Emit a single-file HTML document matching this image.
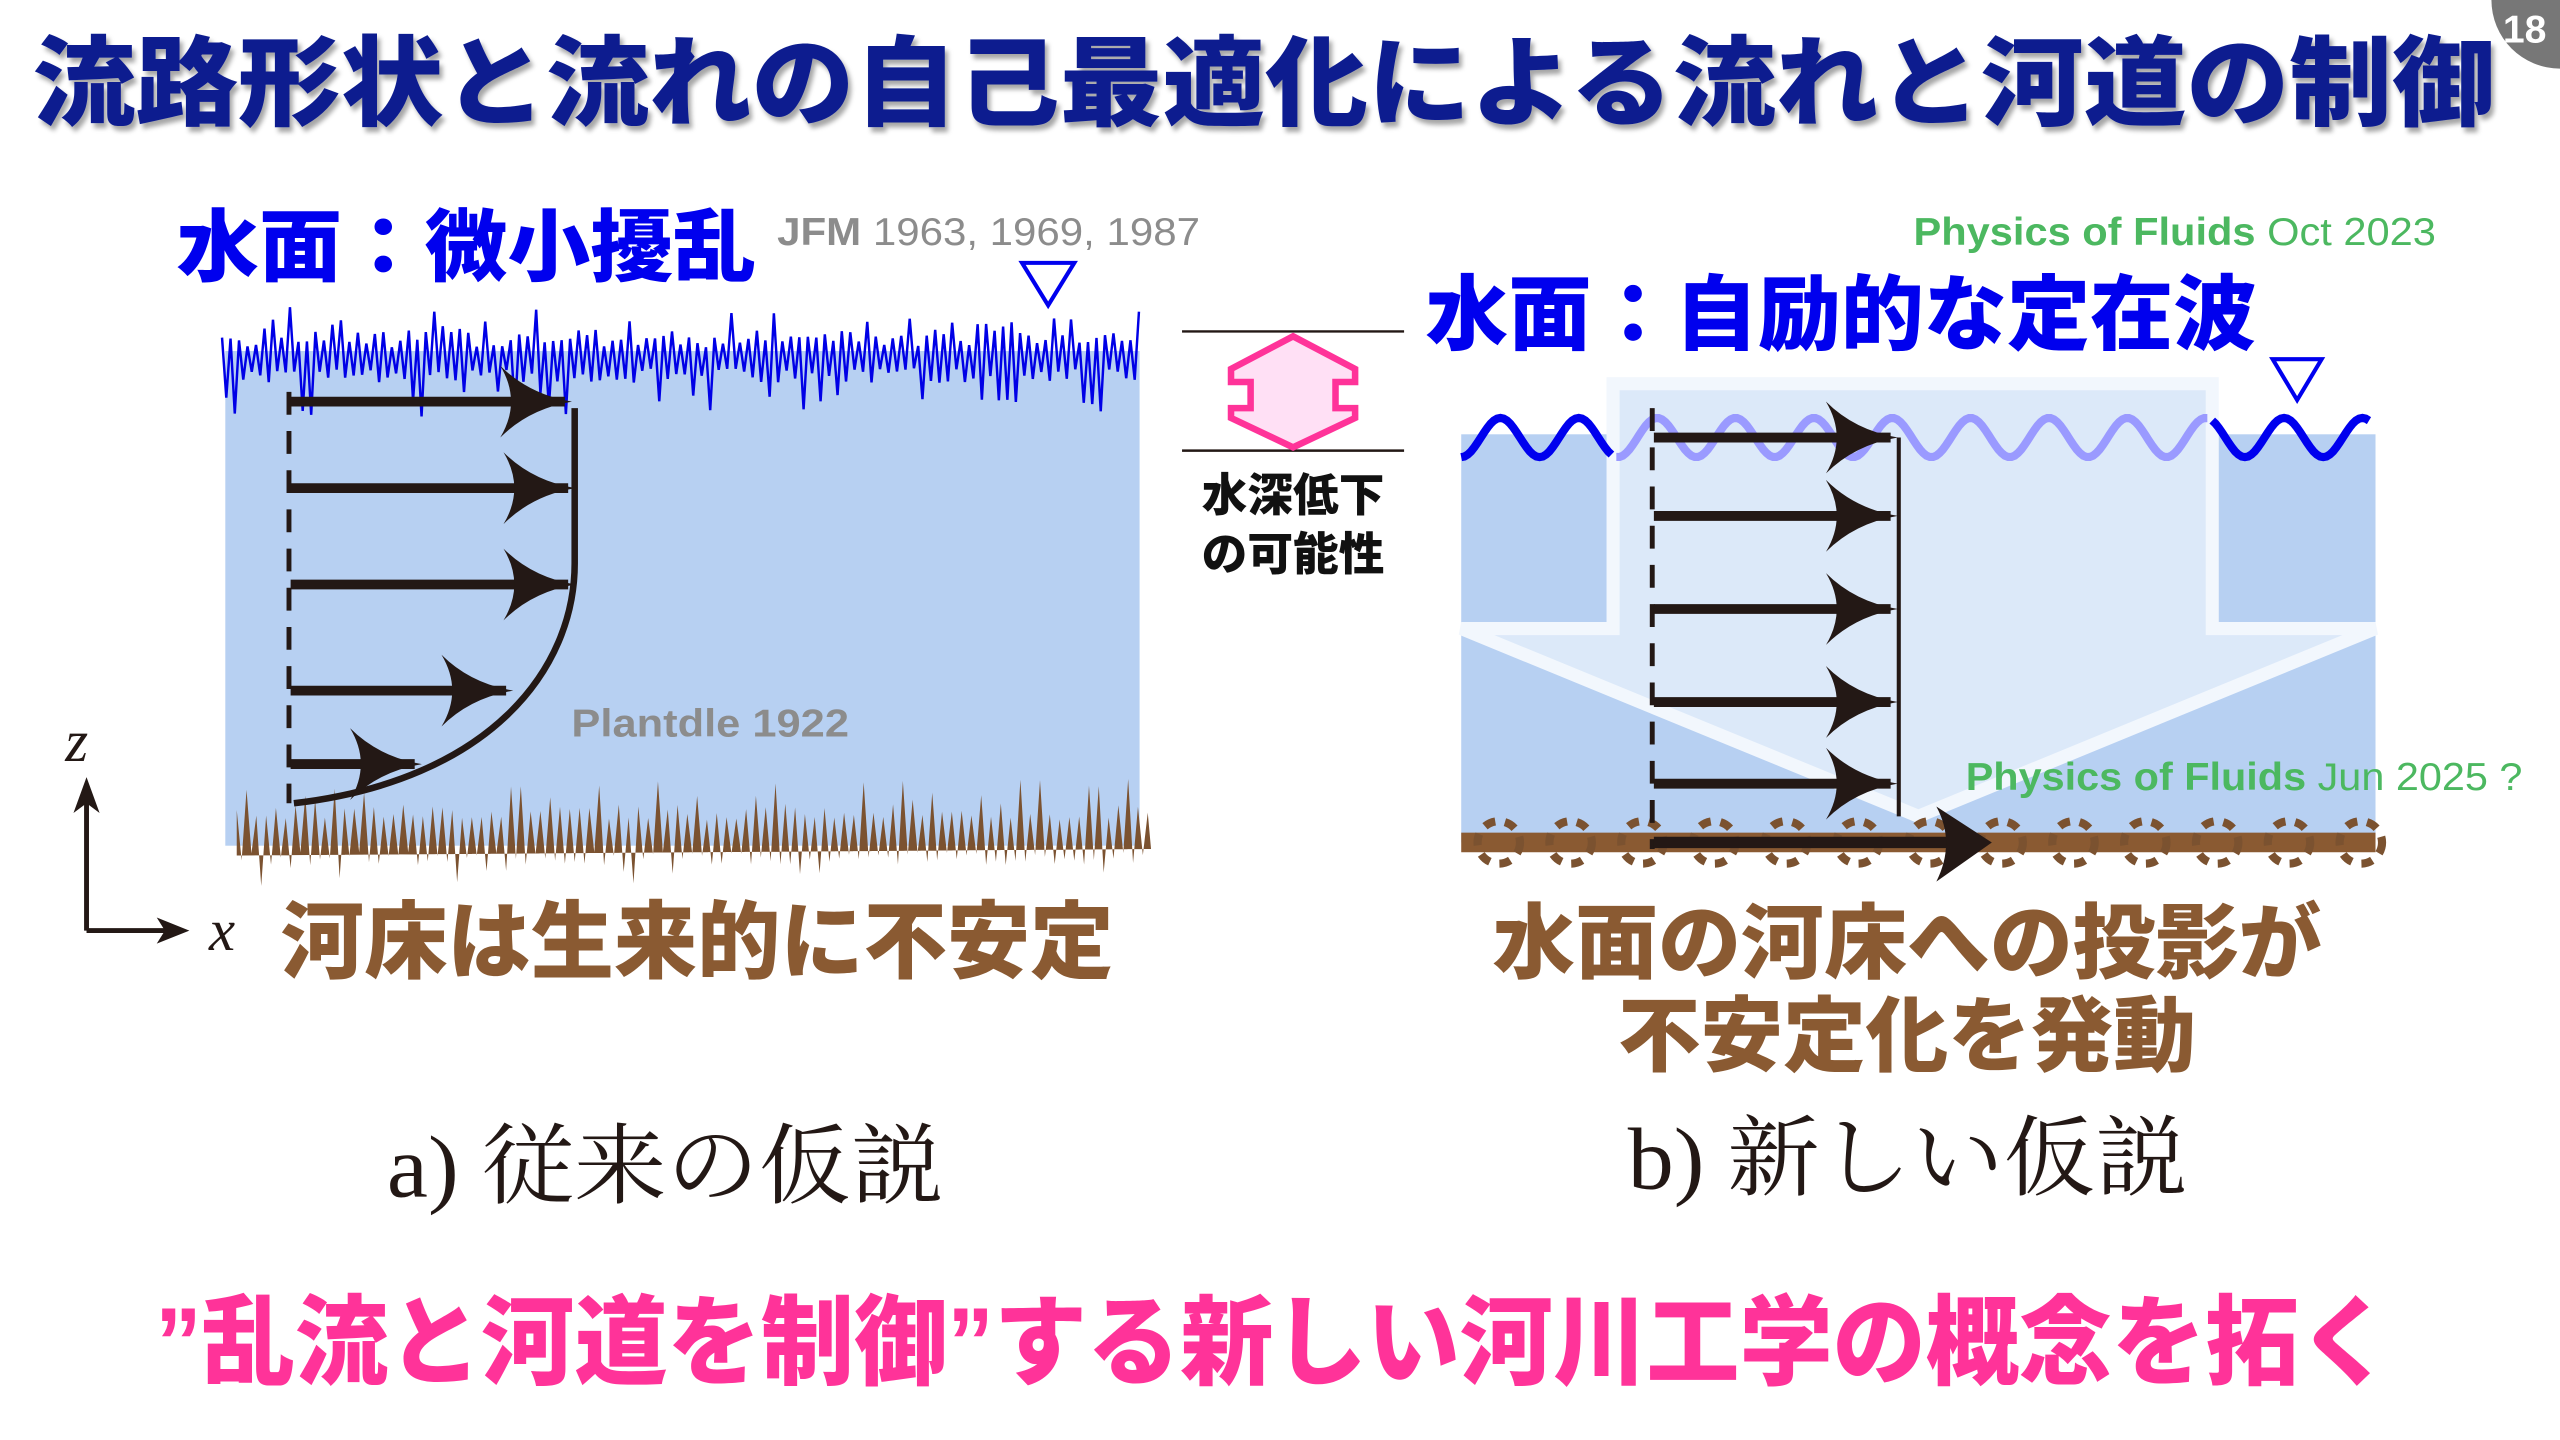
<!DOCTYPE html>
<html><head><meta charset="utf-8">
<style>
html,body{margin:0;padding:0;background:#fff;}
svg{display:block;}
text{font-family:"Liberation Sans","Noto Sans CJK JP",sans-serif;}
.b{font-weight:900;}
.serif{font-family:"Liberation Serif","Noto Serif CJK SC",serif;}
</style></head>
<body>
<svg id="s" width="2560" height="1440" viewBox="0 0 1568 882" xmlns="http://www.w3.org/2000/svg">
<defs>
<marker id="ah2" viewBox="0 0 20 20" refX="18" refY="10" markerWidth="44" markerHeight="44" markerUnits="userSpaceOnUse" orient="auto">
<path d="M0,0 Q8,8 20,10 Q8,12 0,20 Q6,10 0,0Z" fill="#231815"/></marker>
<filter id="sh"><feDropShadow dx="2" dy="3" stdDeviation="1.5" flood-color="#000" flood-opacity="0.35"/></filter>
</defs>

<!-- title -->
<text x="20" y="72" font-size="60" class="b" fill="#0d1f8f" textLength="1508" lengthAdjust="spacingAndGlyphs" filter="url(#sh)">流路形状と流れの自己最適化による流れと河道の制御</text>
<circle cx="1568" cy="0" r="42" fill="#777"/>
<text x="1533" y="26" font-size="24" font-weight="bold" fill="#fff">18</text>

<!-- LEFT PANEL -->
<rect x="138" y="215" width="560" height="303" fill="#b7d0f2"/>
<polyline id="wl" fill="none" stroke="#0000e6" stroke-width="1.5"/>
<polygon id="bed" fill="#7b5230"/>
<text x="108" y="168" font-size="48" class="b" fill="#0000ee" textLength="355" lengthAdjust="spacingAndGlyphs">水面：微小擾乱</text>
<text x="476" y="150" font-size="24" fill="#8c8c8c" textLength="259" lengthAdjust="spacingAndGlyphs"><tspan font-weight="bold">JFM</tspan> 1963, 1969, 1987</text>
<path d="M626,161 L658,161 L642,187Z" fill="#fff" stroke="#0000ee" stroke-width="2.5"/>

<line x1="177" y1="240" x2="177" y2="492" stroke="#231815" stroke-width="3" stroke-dasharray="14,10"/>
<g stroke="#231815" stroke-width="6" marker-end="url(#ah2)">
<line x1="178" y1="246" x2="346" y2="246"/>
<line x1="178" y1="299" x2="348" y2="299"/>
<line x1="178" y1="358" x2="348" y2="358"/>
<line x1="178" y1="423" x2="310" y2="423"/>
<line x1="178" y1="468" x2="254" y2="468"/>
</g>
<path d="M352,250 L352,345 C352,410 300,478 180,492" fill="none" stroke="#231815" stroke-width="4"/>
<text x="350" y="451" font-size="24" font-weight="bold" fill="#8c8c8c" textLength="170" lengthAdjust="spacingAndGlyphs">Plantdle 1922</text>

<!-- axes -->
<text x="40" y="466" font-size="36" font-style="italic" class="serif" fill="#231815">z</text>
<path d="M53,570 L53,482 M53,570 L108,570" fill="none" stroke="#231815" stroke-width="3"/>
<path d="M53,476 L45,498 L53,492 L61,498Z" fill="#231815"/>
<path d="M116,570 L96,562 L101,570 L96,578Z" fill="#231815"/>
<text x="128" y="582" font-size="36" font-style="italic" class="serif" fill="#231815">x</text>
<text x="172" y="595" font-size="52" class="b" fill="#8a5a32" textLength="510" lengthAdjust="spacingAndGlyphs">河床は生来的に不安定</text>
<text x="237" y="733" font-size="54" class="serif" fill="#231815" textLength="341" lengthAdjust="spacingAndGlyphs">a) 従来の仮説</text>

<!-- MIDDLE -->
<line x1="724" y1="203" x2="860" y2="203" stroke="#231815" stroke-width="1.5"/>
<line x1="724" y1="276" x2="860" y2="276" stroke="#231815" stroke-width="1.5"/>
<path d="M792,206 L830,226 L830,234 L818,234 L818,250 L830,250 L830,256 L792,274 L754,256 L754,250 L766,250 L766,234 L754,234 L754,226Z" fill="#ffe0f5" stroke="#ff3399" stroke-width="4" stroke-linejoin="miter"/>
<text x="792" y="313" font-size="28" class="b" fill="#111" text-anchor="middle">水深低下</text>
<text x="792" y="349" font-size="28" class="b" fill="#111" text-anchor="middle">の可能性</text>

<!-- RIGHT PANEL -->
<text x="1172" y="150" font-size="24" fill="#4cb860" textLength="320" lengthAdjust="spacingAndGlyphs"><tspan font-weight="bold">Physics of Fluids</tspan> Oct 2023</text>
<text x="873" y="210" font-size="50" class="b" fill="#0000ee" textLength="509" lengthAdjust="spacingAndGlyphs">水面：自励的な定在波</text>
<rect x="895" y="266" width="560" height="250" fill="#b7d0f2"/>
<path d="M988,235 L1355,235 L1355,385 L1455,385 L1175,500 L895,385 L988,385Z" fill="#dce9f9" stroke="#f2f7fd" stroke-width="8" stroke-linejoin="miter"/>
<path id="wv1" fill="none" stroke="#0000ee" stroke-width="5"/>
<path id="wv2" fill="none" stroke="#9a9aff" stroke-width="5"/>
<path id="wv3" fill="none" stroke="#0000ee" stroke-width="5"/>
<path d="M1392,220 L1422,220 L1407,245Z" fill="#fff" stroke="#0000ee" stroke-width="2.5"/>

<rect x="895" y="510" width="560" height="12" fill="#8a5a32"/>
<g id="circ" fill="none" stroke="#7b5230" stroke-width="5" stroke-dasharray="7,6"></g>

<line x1="1012" y1="250" x2="1012" y2="520" stroke="#231815" stroke-width="3" stroke-dasharray="14,10"/>
<line x1="1163" y1="268" x2="1163" y2="500" stroke="#231815" stroke-width="2.5"/>
<g stroke="#231815" stroke-width="6" marker-end="url(#ah2)">
<line x1="1013" y1="268" x2="1158" y2="268"/>
<line x1="1013" y1="316" x2="1158" y2="316"/>
<line x1="1013" y1="373" x2="1158" y2="373"/>
<line x1="1013" y1="430" x2="1158" y2="430"/>
<line x1="1013" y1="480" x2="1158" y2="480"/>
</g>
<line x1="1013" y1="516" x2="1196" y2="516" stroke="#231815" stroke-width="7"/>
<path d="M1220,516 L1186,494 Q1198,516 1186,540Z" fill="#231815"/>
<text x="1204" y="484" font-size="24" fill="#4cb860" textLength="341" lengthAdjust="spacingAndGlyphs"><tspan font-weight="bold">Physics of Fluids</tspan> Jun 2025 ?</text>

<text x="1168" y="595" font-size="50" class="b" fill="#8a5a32" text-anchor="middle" textLength="508" lengthAdjust="spacingAndGlyphs">水面の河床への投影が</text>
<text x="1168" y="652" font-size="50" class="b" fill="#8a5a32" text-anchor="middle" textLength="354" lengthAdjust="spacingAndGlyphs">不安定化を発動</text>
<text x="997" y="728" font-size="54" class="serif" fill="#231815" textLength="343" lengthAdjust="spacingAndGlyphs">b) 新しい仮説</text>

<text x="95" y="843" font-size="60" class="b" fill="#ff3399" textLength="1370" lengthAdjust="spacingAndGlyphs">”乱流と河道を制御”する新しい河川工学の概念を拓く</text>
</svg>
<script>
(function(){
var seed=7;function r(){seed=(seed*9301+49297)%233280;return seed/233280;}
var p=[];for(var x=136;x<=698;x+=2.6){var big=r()<0.18;var up=(p.length%2==0);var a=big?18+r()*14:7+r()*11;p.push(x.toFixed(1)+","+(up?220-a:220+a*(big?1.1:0.8)).toFixed(1));}
document.getElementById('wl').setAttribute('points',p.join(' '));
var q=["145,524"];var i=0;for(var x=145;x<=705;x+=3){var big=r()<0.18;var a=big?22+r()*14:10+r()*10;q.push(x.toFixed(1)+","+(i%2==0?512-a:514+a*0.8).toFixed(1));i++;}
q.push("705,520");document.getElementById('bed').setAttribute('points',q.join(' '));
function wave(x0,x1){var d="";for(var x=x0;x<=x1;x+=2){var y=268-12*Math.cos((x-895)/48*2*Math.PI+Math.PI);d+=(d?"L":"M")+x+","+y.toFixed(1);}return d;}
document.getElementById('wv1').setAttribute('d',wave(895,988));
document.getElementById('wv2').setAttribute('d',wave(990,1353));
document.getElementById('wv3').setAttribute('d',wave(1355,1452));
var g=document.getElementById('circ');for(var cx=918;cx<1455;cx+=44){var c=document.createElementNS("http://www.w3.org/2000/svg","circle");c.setAttribute('cx',cx);c.setAttribute('cy',516);c.setAttribute('r',13);g.appendChild(c);}
})();
</script>
</body></html>
